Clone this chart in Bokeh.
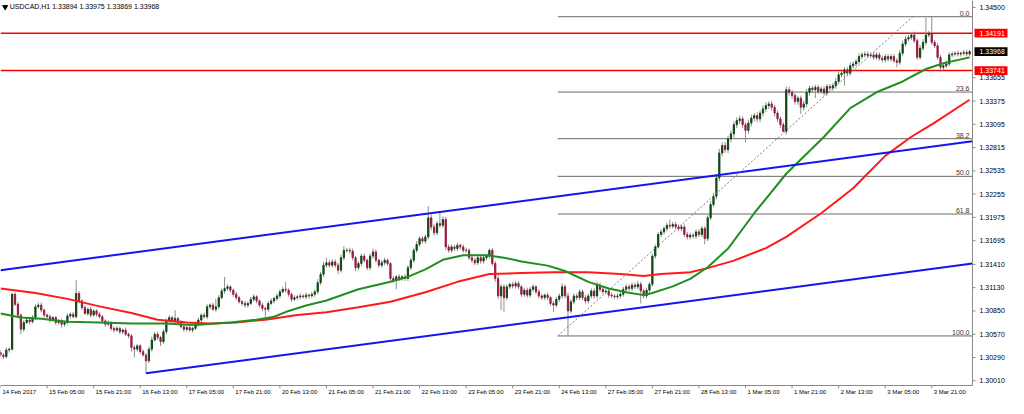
from bokeh.plotting import figure
from bokeh.models import Range1d, FixedTicker, ColumnDataSource
from bokeh.embed import file_html
from bokeh.resources import INLINE
from bokeh.core.properties import value

# ---------------- data ----------------
title_text = "USDCAD,H1  1.33894 1.33975 1.33869 1.33968"
BASE = 1.3          # prices below are pips above 1.3000
PIP = 0.0001

first_open_pips = 35
closes_pips = [
    32,30,38,39,105,93,80,63,71,74,72,77,90,92,86,80,78,74,77,71,
    73,69,71,79,81,78,106,97,89,82,87,80,85,81,78,73,69,71,64,62,
    64,60,62,57,55,41,39,43,36,32,25,39,50,57,53,48,60,73,77,73,
    76,71,66,63,65,62,64,69,74,80,78,90,92,87,90,101,109,112,114,110,
    105,101,96,94,92,94,99,102,97,92,88,87,94,97,100,103,108,111,110,105,
    99,101,102,103,102,104,103,105,108,119,129,140,143,140,144,140,134,149,158,158,
    157,149,137,142,151,146,137,151,156,146,140,143,146,142,124,122,126,124,126,124,
    137,146,158,165,172,169,174,197,186,179,190,188,195,162,158,162,160,164,162,158,
    158,149,146,143,149,145,149,151,158,142,124,103,114,101,114,117,115,118,114,105,
    110,104,111,114,108,103,101,104,101,94,92,99,103,114,103,85,96,103,101,108,
    101,97,103,109,103,116,111,108,109,104,103,102,103,105,111,114,112,116,114,117,
    109,103,110,117,151,162,177,180,184,188,187,189,186,184,186,177,174,176,175,180,
    177,184,172,197,213,223,245,275,284,279,292,298,309,314,316,309,302,311,317,320,
    316,323,328,332,334,330,323,316,309,301,351,348,344,337,341,330,334,348,353,351,
    354,349,352,347,355,353,356,361,369,371,375,371,380,382,385,391,393,394,392,393,
    390,393,389,387,391,388,391,386,384,395,406,412,414,417,410,390,401,408,417,419,
    408,404,390,378,380,382,393,394,395,394,395,396,394,397,
]
wick_up_pips = [
    3,2,3,2,2,2,3,2,3,2,2,3,3,3,3,2,2,3,2,2,
    2,3,2,3,2,3,16,3,2,3,2,3,2,2,3,2,2,3,2,2,
    3,2,2,3,2,2,3,2,2,3,2,3,4,3,3,2,3,3,3,2,
    10,2,3,2,2,3,2,3,3,2,3,3,2,3,10,3,3,14,3,2,
    2,3,2,2,3,2,3,3,2,2,3,2,3,3,2,3,3,3,9,2,
    2,3,2,3,2,3,2,3,3,4,3,4,6,3,3,3,3,4,5,3,
    3,3,2,3,3,3,2,3,4,3,2,3,3,2,2,3,2,3,2,3,
    3,3,3,4,3,3,3,14,4,3,3,13,4,3,3,3,2,3,2,3,
    3,2,3,3,2,3,3,3,2,3,3,4,3,3,3,2,3,3,3,2,
    3,3,3,3,2,3,3,2,3,2,3,3,3,4,3,4,3,3,3,3,
    3,3,3,3,3,4,3,3,2,3,3,2,3,3,3,3,3,3,3,4,
    3,3,3,3,3,3,3,3,3,3,7,3,3,3,3,3,3,3,3,3,
    3,3,3,3,4,4,4,5,4,4,4,4,4,4,4,3,3,4,4,3,
    4,3,4,4,3,3,3,3,3,3,4,4,3,3,3,3,4,4,3,3,
    3,3,3,3,3,3,3,4,4,3,3,3,4,3,3,4,3,3,3,3,
    3,3,3,3,3,3,3,3,3,4,4,4,3,3,4,3,4,4,21,3,
    20,3,3,3,3,4,3,3,2,3,2,3,3,2,
]
wick_dn_pips = [
    3,3,2,3,2,2,3,6,3,2,3,2,3,2,3,3,2,3,2,3,
    3,4,3,2,3,2,2,3,3,2,3,3,2,3,2,3,3,2,3,3,
    2,3,3,2,3,5,10,3,3,2,15,3,3,2,3,5,3,3,2,3,
    3,3,2,3,3,2,3,2,3,3,2,3,3,2,3,3,2,3,3,3,
    3,3,2,3,3,3,2,3,3,3,3,9,3,2,3,3,3,2,3,3,
    3,2,3,3,2,3,3,2,3,3,3,3,3,3,3,3,5,3,3,3,
    3,3,4,3,3,3,3,3,3,3,3,3,3,3,3,3,11,3,3,3,
    3,3,3,3,3,3,3,3,4,3,3,3,3,4,3,3,3,3,3,3,
    3,3,3,3,3,3,3,3,3,3,4,4,17,17,3,3,3,3,3,3,
    3,3,3,3,3,3,3,3,3,3,8,3,3,3,3,31,3,3,3,3,
    3,3,3,3,3,3,3,3,3,3,3,3,3,3,3,3,3,3,3,3,
    15,3,3,3,3,3,2,3,3,3,3,3,3,3,3,3,3,3,3,3,
    3,3,7,3,3,3,4,4,4,4,4,4,4,4,4,4,14,4,4,4,
    4,4,4,4,4,4,4,4,4,1,4,4,4,4,4,8,4,4,4,4,
    10,3,3,3,3,3,3,4,3,3,15,3,3,3,3,3,3,3,3,3,
    3,3,3,3,3,3,3,3,6,3,3,3,3,3,3,3,3,3,3,3,
    3,3,3,6,3,3,3,3,3,3,3,3,3,3,
]

tick_idx = list(range(0, 321, 16))
tick_labels = ["14 Feb 2017", "15 Feb 05:00", "15 Feb 21:00", "16 Feb 13:00", "17 Feb 05:00",
               "17 Feb 21:00", "20 Feb 13:00", "21 Feb 05:00", "21 Feb 21:00", "22 Feb 13:00",
               "23 Feb 05:00", "23 Feb 21:00", "24 Feb 13:00", "27 Feb 05:00", "27 Feb 21:00",
               "28 Feb 13:00", "1 Mar 05:00", "1 Mar 21:00", "2 Mar 13:00", "3 Mar 05:00",
               "3 Mar 21:00"]
y_ticks = [1.30010, 1.30290, 1.30570, 1.30850, 1.31130, 1.31410, 1.31695, 1.31975,
           1.32255, 1.32535, 1.32815, 1.33095, 1.33375, 1.33655, 1.34500]
y_tick_labels = ["1.30010", "1.30290", "1.30570", "1.30850", "1.31130", "1.31410", "1.31695",
                 "1.31975", "1.32255", "1.32535", "1.32815", "1.33095", "1.33375", "1.33655",
                 "1.34500"]

green_ma_idx = [0,7,14,23,34,45,57,64,68,79,88,94,99,105,112,123,134,140,146,152,159,167,
                173,179,188,194,202,209,215,221,224,231,237,243,250,259,270,283,292,301,310,318,324,333]
green_ma_pips = [82,77,75.5,72,71,70,70,68.5,68.5,71,74.5,78,85,91.5,97.5,111,120,126,135,146.5,
                 152,152,149,144.5,139.5,133,120,112,107.5,104,106.5,114.5,123.5,137.5,160,202.5,
                 250,294.5,329,348,361,376,383,390]
red_ma_idx = [0,12,23,34,45,54,64,72,81,91,102,112,123,134,146,157,168,179,190,202,213,221,227,
              237,243,252,263,270,282,293,304,313,321,333]
red_ma_pips = [112,106.5,99.5,90.5,82.5,74.5,71,70,71,74.5,80,83.5,89.5,96,107.5,120,129.5,130.5,
               131.5,131.5,129.5,127,129.5,131.5,136.5,145.5,160.5,174,202.5,232.5,271.5,294.5,
               311.5,339]

channel_upper_idx = [0, 334]
channel_upper_price = [1.3134, 1.3289]
channel_lower_idx = [50, 334]
channel_lower_price = [1.3010, 1.3142]

fib_anchor_idx = [191.5, 313.5]
fib_anchor_price = [1.30549, 1.34389]
fib_levels = [0.0, 23.6, 38.2, 50.0, 61.8, 100.0]
fib_level_labels = ["0.0", "23.6", "38.2", "50.0", "61.8", "100.0"]

hline_prices = [1.34191, 1.33741]
hline_labels = ["1.34191", "1.33741"]
last_price = 1.33968
last_label = "1.33968"

# ---------------- layout ----------------
X_START, X_END = 0, 334          # bar-index span of the price area
Y_AXIS, Y_TOP = 1.29953, 1.34584  # price at the time-axis line / top edge
FRAME_W, FRAME_H = 1008, 388
AXIS_PX = 36                      # right-hand price scale strip
TICK_PX = 3                       # time-axis tick length (drawn inside the frame)
PLOT_PX = FRAME_W - AXIS_PX
DXPX = (X_END - X_START) / PLOT_PX
DYPX = (Y_TOP - Y_AXIS) / (FRAME_H - TICK_PX)
XR = X_END + AXIS_PX * DXPX
Y_BOT = Y_AXIS - TICK_PX * DYPX

FONT = "Liberation Sans"
XFS = 6.0                         # time label font size (px)
CW = {' ': 0.278, ':': 0.278, 'F': 0.611, 'e': 0.556, 'b': 0.556, 'M': 0.833, 'a': 0.556, 'r': 0.333}
# labels start just right of their tick mark, so centre each one half its width further right
label_pos = [round(t + (2 + XFS * sum(CW.get(ch, 0.556) for ch in s) / 2) * DXPX, 3)
             for t, s in zip(tick_idx, tick_labels)]

# ---------------- build ----------------
n = min(len(closes_pips), len(wick_up_pips), len(wick_dn_pips))
idx = list(range(n))
opens_pips = [first_open_pips] + closes_pips[:n - 1]   # each hour opens at previous close
c = [BASE + v * PIP for v in closes_pips[:n]]
o = [BASE + v * PIP for v in opens_pips]
top = [max(a, b) for a, b in zip(o, c)]
bot = [min(a, b) for a, b in zip(o, c)]
hi = [t + u * PIP for t, u in zip(top, wick_up_pips[:n])]
lo = [b_ - d * PIP for b_, d in zip(bot, wick_dn_pips[:n])]
BULL, BEAR = "#0f4a14", "#9b1b42"
col = [BULL if cc >= oo else BEAR for oo, cc in zip(o, c)]
src = ColumnDataSource(dict(x=idx, o=o, c=c, top=top, bot=bot, hi=hi, lo=lo, col=col))

AXC = "#8a8a8a"
p = figure(frame_width=FRAME_W, frame_height=FRAME_H, output_backend="svg", toolbar_location=None,
           x_range=Range1d(X_START, XR), y_range=Range1d(Y_BOT, Y_TOP),
           min_border_left=0, min_border_top=0, min_border_right=0, min_border_bottom=0)
p.grid.visible = False
p.outline_line_color = None
p.yaxis.visible = False
p.background_fill_color = "white"

# time axis: labels only (line and ticks are drawn in the frame)
p.xaxis.ticker = FixedTicker(ticks=label_pos)
p.xaxis.major_label_overrides = {t: s for t, s in zip(label_pos, tick_labels)}
p.xaxis.major_label_text_font = FONT
p.xaxis.major_label_text_font_size = "%gpx" % XFS
p.xaxis.major_label_standoff = 0
p.xaxis.axis_line_color = None
p.xaxis.major_tick_line_color = None
p.xaxis.minor_tick_line_color = None
p.xaxis.major_tick_out = 0
p.xaxis.major_tick_in = 0
p.xaxis.major_label_text_color = "black"

# fibonacci levels
f_lo, f_hi = fib_anchor_price
fib_prices = [f_hi - lv / 100.0 * (f_hi - f_lo) for lv in fib_levels]
p.segment(x0=[fib_anchor_idx[0]] * len(fib_prices), y0=fib_prices,
          x1=[X_END] * len(fib_prices), y1=fib_prices, line_color="#6a6a6a", line_width=1)
p.text(x=[X_END] * len(fib_prices), y=fib_prices, text=fib_level_labels, x_offset=-3, y_offset=-1,
       text_align="right", text_baseline="bottom", text_font=value(FONT),
       text_font_size="7px", text_color="#333333")

# horizontal levels
p.segment(x0=[X_START] * len(hline_prices), y0=hline_prices, x1=[X_END] * len(hline_prices),
          y1=hline_prices, line_color="#ff0000", line_width=1.5)

# candles
p.segment(x0="x", y0="lo", x1="x", y1="hi", source=src, line_color="#8e8e8e", line_width=1)
p.vbar(x="x", width=0.42, top="top", bottom="bot", source=src, fill_color="col",
       line_color="col", line_width=1)

# moving averages
p.line(red_ma_idx, [BASE + v * PIP for v in red_ma_pips], line_color="#ff1a1a", line_width=2)
p.line(green_ma_idx, [BASE + v * PIP for v in green_ma_pips], line_color="#1f8f1f", line_width=2)

# channel
p.line(channel_upper_idx, channel_upper_price, line_color="#1414f0", line_width=2)
p.line(channel_lower_idx, channel_lower_price, line_color="#1414f0", line_width=2)

# fib diagonal
p.line(fib_anchor_idx, fib_anchor_price, line_color="#7a7a7a", line_width=1, line_dash="2 2")

# title
p.text(x=[3.2], y=[Y_TOP], text=[title_text], y_offset=2, text_align="left",
       text_baseline="top", text_font=value(FONT), text_font_size="7px", text_color="black")
p.scatter(x=[1.6], y=[Y_TOP - 6.5 * DYPX], marker="inverted_triangle", size=5,
          fill_color="black", line_color="black")

# axis lines and tick marks
p.segment(x0=[X_END], y0=[Y_AXIS], x1=[X_END], y1=[Y_TOP], line_color=AXC, line_width=1)
p.segment(x0=[X_START], y0=[Y_AXIS], x1=[X_END], y1=[Y_AXIS], line_color=AXC, line_width=1)
p.segment(x0=tick_idx, y0=[Y_AXIS] * len(tick_idx), x1=tick_idx, y1=[Y_BOT] * len(tick_idx),
          line_color=AXC, line_width=1)
p.segment(x0=[X_END] * len(y_ticks), y0=y_ticks, x1=[X_END + 3 * DXPX] * len(y_ticks), y1=y_ticks,
          line_color=AXC, line_width=1)

# price tags on the scale
tag_prices = hline_prices + [last_price]
tag_labels = hline_labels + [last_label]
tag_colors = ["#ff0000", "#ff0000", "#000000"]
p.quad(left=[X_END + 2 * DXPX] * 3, right=[X_END + 35 * DXPX] * 3,
       top=[y + 4.4 * DYPX for y in tag_prices], bottom=[y - 4.4 * DYPX for y in tag_prices],
       fill_color=tag_colors, line_color=None)
p.text(x=[X_END] * 3, y=tag_prices, text=tag_labels, x_offset=7, text_align="left",
       text_baseline="middle", text_font=value(FONT), text_font_size="7px", text_color="white")

# price scale labels
p.text(x=[X_END] * len(y_ticks), y=y_ticks, text=y_tick_labels, x_offset=7, text_align="left",
       text_baseline="middle", text_font=value(FONT), text_font_size="7px", text_color="black")

open("out.html", "w").write(file_html(p, INLINE))
